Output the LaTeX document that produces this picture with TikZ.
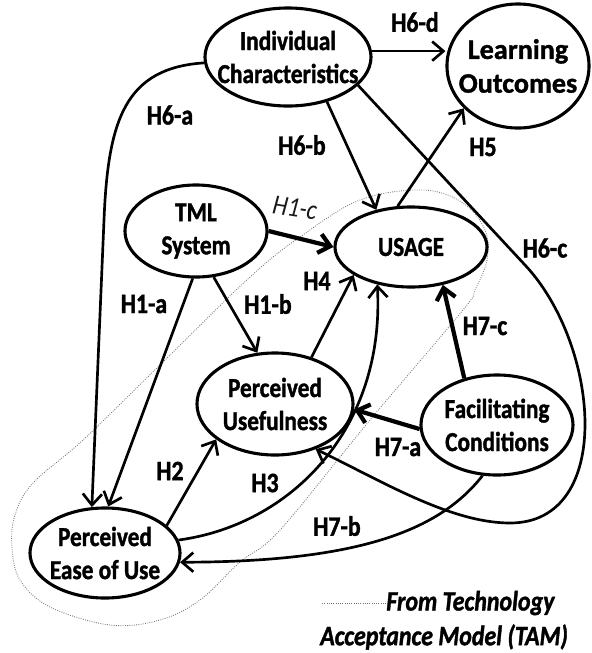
\documentclass[tikz,border=0pt]{standalone}
\usepackage{fontspec}
\setmainfont{Carlito}[FakeStretch=0.85,BoldFeatures={FakeBold=1.3},BoldItalicFeatures={FakeBold=1.3}]
\newfontfamily\lofont{Carlito}[BoldFeatures={FakeBold=1.3}]
\usetikzlibrary{shapes.geometric,arrows.meta}
\newcommand{\twolines}[2]{\makebox[0pt]{#1}\\\makebox[0pt]{#2}}

\begin{document}
\begin{tikzpicture}[x=0.025cm,y=-0.025cm,
    ell/.style={shape=ellipse,draw=black,line width=2.2pt,inner sep=0pt,align=center,font=\fontsize{19.5}{23.5}\selectfont\bfseries},
    arr/.style={-{Straight Barb[length=2.8mm,width=4.8mm]},line width=1.9pt},
    thickarr/.style={arr,line width=3pt},
    lab/.style={font=\fontsize{20}{23}\selectfont\bfseries,inner sep=0pt},
    tam/.style={draw=black!55,densely dotted,line width=0.6pt}]
    \useasboundingbox (0,0) rectangle (592,653);

    % TAM part
    \draw[tam] plot[smooth cycle,tension=0.6] coordinates {(110,625) (50,607) (20,580) (12,547) (15,515) (33,483) (83,440) (165,360) (250,277) (300,237) (360,200) (423,190) (463,203) (485,230) (487,260) (475,290) (463,310) (370,420) (280,530) (240,562) (200,600) (160,620)};

    \node[ell,minimum width=4.15cm,minimum height=2.45cm] (IC) at (288,57) {\twolines{Individual}{Characteristics}};
    \node[ell,minimum width=3.55cm,minimum height=3.1cm,font=\fontsize{20}{24}\selectfont\lofont\bfseries] (LO) at (518,66) {\twolines{Learning}{Outcomes}};
    \node[ell,minimum width=3.55cm,minimum height=2.3cm] (TML) at (196,231) {\twolines{TML}{System}};
    \node[ell,minimum width=3.8cm,minimum height=2cm] (USAGE) at (411,247) {\makebox[0pt]{USAGE}};
    \node[ell,minimum width=3.9cm,minimum height=2.55cm] (PU) at (275,404) {\twolines{Perceived}{Usefulness}};
    \node[ell,minimum width=3.8cm,minimum height=2.5cm] (FC) at (497,425) {\twolines{Facilitating}{Conditions}};
    \node[ell,minimum width=3.75cm,minimum height=2.25cm] (PEOU) at (105,553) {\twolines{Perceived}{Ease of Use}};

    \draw[arr] (IC.4) -- (IC.4 -| LO.west);
    \draw[arr] (IC.184) .. controls (125,68) and (108,120) .. (104,220) -- (PEOU.106);
    \draw[arr] (IC.311) -- (USAGE.133);
    \draw[arr] (IC.338) -- (525,265) .. controls (600,345) and (615,523) .. (510,523) .. controls (450,523) and (380,480) .. (PU.312);
    \draw[thickarr] (TML.east) -- (USAGE.west);
    \draw[arr] (TML.291) -- (PU.109);
    \draw[arr] (TML.266) -- (PEOU.86);
    \draw[arr] (PEOU.24) -- (PU.211);
    \draw[arr] (PEOU.10) .. controls (290,525) and (385,430) .. (USAGE.228);
    \draw[arr] (PU.52) -- (USAGE.206);
    \draw[arr] (USAGE.108) -- (LO.218);
    \draw[thickarr] (FC.125) -- (USAGE.310);
    \draw[thickarr] (FC.183) -- (PU.356);
    \draw[arr] (FC.254) .. controls (440,530) and (360,562) .. (PEOU.353);

    \node[lab] (h6d) at (415,22) {H6-d};
    \node[lab] (h6a) at (170,115) {H6-a};
    \node[lab] (h6b) at (302,145) {H6-b};
    \node[lab] (h6c) at (545,248) {H6-c};
    \node[lab,font=\fontsize{20}{23}\selectfont\itshape,text=black!90,rotate=-9] (h1c) at (295,208) {H1-c};
    \node[lab] (h1a) at (144,304) {H1-a};
    \node[lab] (h1b) at (268,304) {H1-b};
    \node[lab] (h2) at (170,471) {H2};
    \node[lab] (h3) at (265,483) {H3};
    \node[lab] (h4) at (317,281) {H4};
    \node[lab] (h5) at (483,147) {H5};
    \node[lab] (h7c) at (485,326) {H7-c};
    \node[lab] (h7a) at (398,447) {H7-a};
    \node[lab] (h7b) at (337,526) {H7-b};

    % legend
    \coordinate (legstart) at (322,603);
    \node[lab,font=\fontsize{20}{23}\selectfont\bfseries\itshape,anchor=west] (leg1) at (386,603) {From Technology};
    \node[lab,font=\fontsize{20}{23}\selectfont\bfseries\itshape,anchor=west] (leg2) at (320,637) {Acceptance Model (TAM)};
    \draw[tam] (legstart) -- (leg1.west);
\end{tikzpicture}
\end{document}
